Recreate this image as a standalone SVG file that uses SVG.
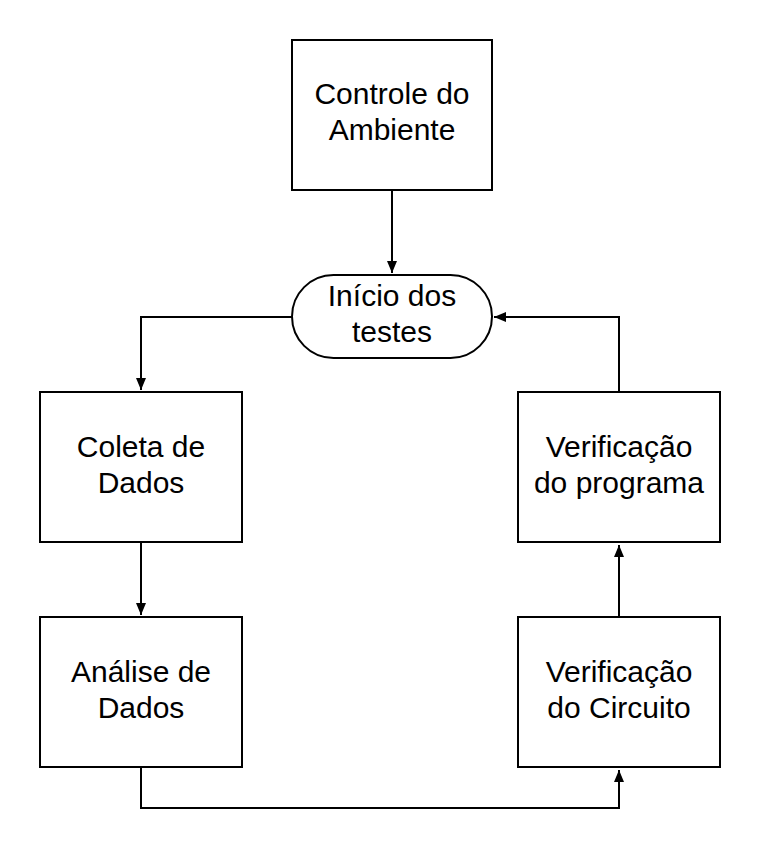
<svg xmlns="http://www.w3.org/2000/svg" width="760" height="849" viewBox="0 0 760 849">
<style>
.box{fill:#fff;stroke:#000;stroke-width:2}
.lbl{font-family:"Liberation Sans",Arial,sans-serif;font-size:30px;fill:#000;text-anchor:middle}
.edge{fill:none;stroke:#000;stroke-width:2;marker-end:url(#arr)}
</style>
<defs>
<marker id="arr" markerUnits="userSpaceOnUse" markerWidth="12" markerHeight="12" refX="12" refY="6" orient="auto" viewBox="0 0 12 12">
<path d="M0,1 L12,6 L0,11 z" fill="#000"/>
</marker>
</defs>
<rect width="760" height="849" fill="#fff"/>
<g id="connectors">
<path class="edge" d="M392,190 L392,273"/>
<path class="edge" d="M292,317 L141,317 L141,390"/>
<path class="edge" d="M141,542 L141,615"/>
<path class="edge" d="M141,767 L141,808 L619,808 L619,770"/>
<path class="edge" d="M619,617 L619,545"/>
<path class="edge" d="M619,391 L619,317 L494,317"/>
</g>
<g id="controle">
<rect class="box" x="292" y="40" width="200" height="150"/>
<text class="lbl" x="392" y="104">Controle do</text>
<text class="lbl" x="392" y="140">Ambiente</text>
</g>
<g id="inicio">
<rect class="box" x="292" y="275" width="200" height="83" rx="41.5" ry="41.5"/>
<text class="lbl" x="392" y="306">Início dos</text>
<text class="lbl" x="392" y="342">testes</text>
</g>
<g id="coleta">
<rect class="box" x="40" y="392" width="202" height="150"/>
<text class="lbl" x="141" y="457">Coleta de</text>
<text class="lbl" x="141" y="493">Dados</text>
</g>
<g id="analise">
<rect class="box" x="40" y="617" width="202" height="150"/>
<text class="lbl" x="141" y="682">Análise de</text>
<text class="lbl" x="141" y="718">Dados</text>
</g>
<g id="programa">
<rect class="box" x="518" y="392" width="202" height="150"/>
<text class="lbl" x="619" y="457">Verificação</text>
<text class="lbl" x="619" y="493">do programa</text>
</g>
<g id="circuito">
<rect class="box" x="518" y="617" width="202" height="150"/>
<text class="lbl" x="619" y="682">Verificação</text>
<text class="lbl" x="619" y="718">do Circuito</text>
</g>
</svg>
